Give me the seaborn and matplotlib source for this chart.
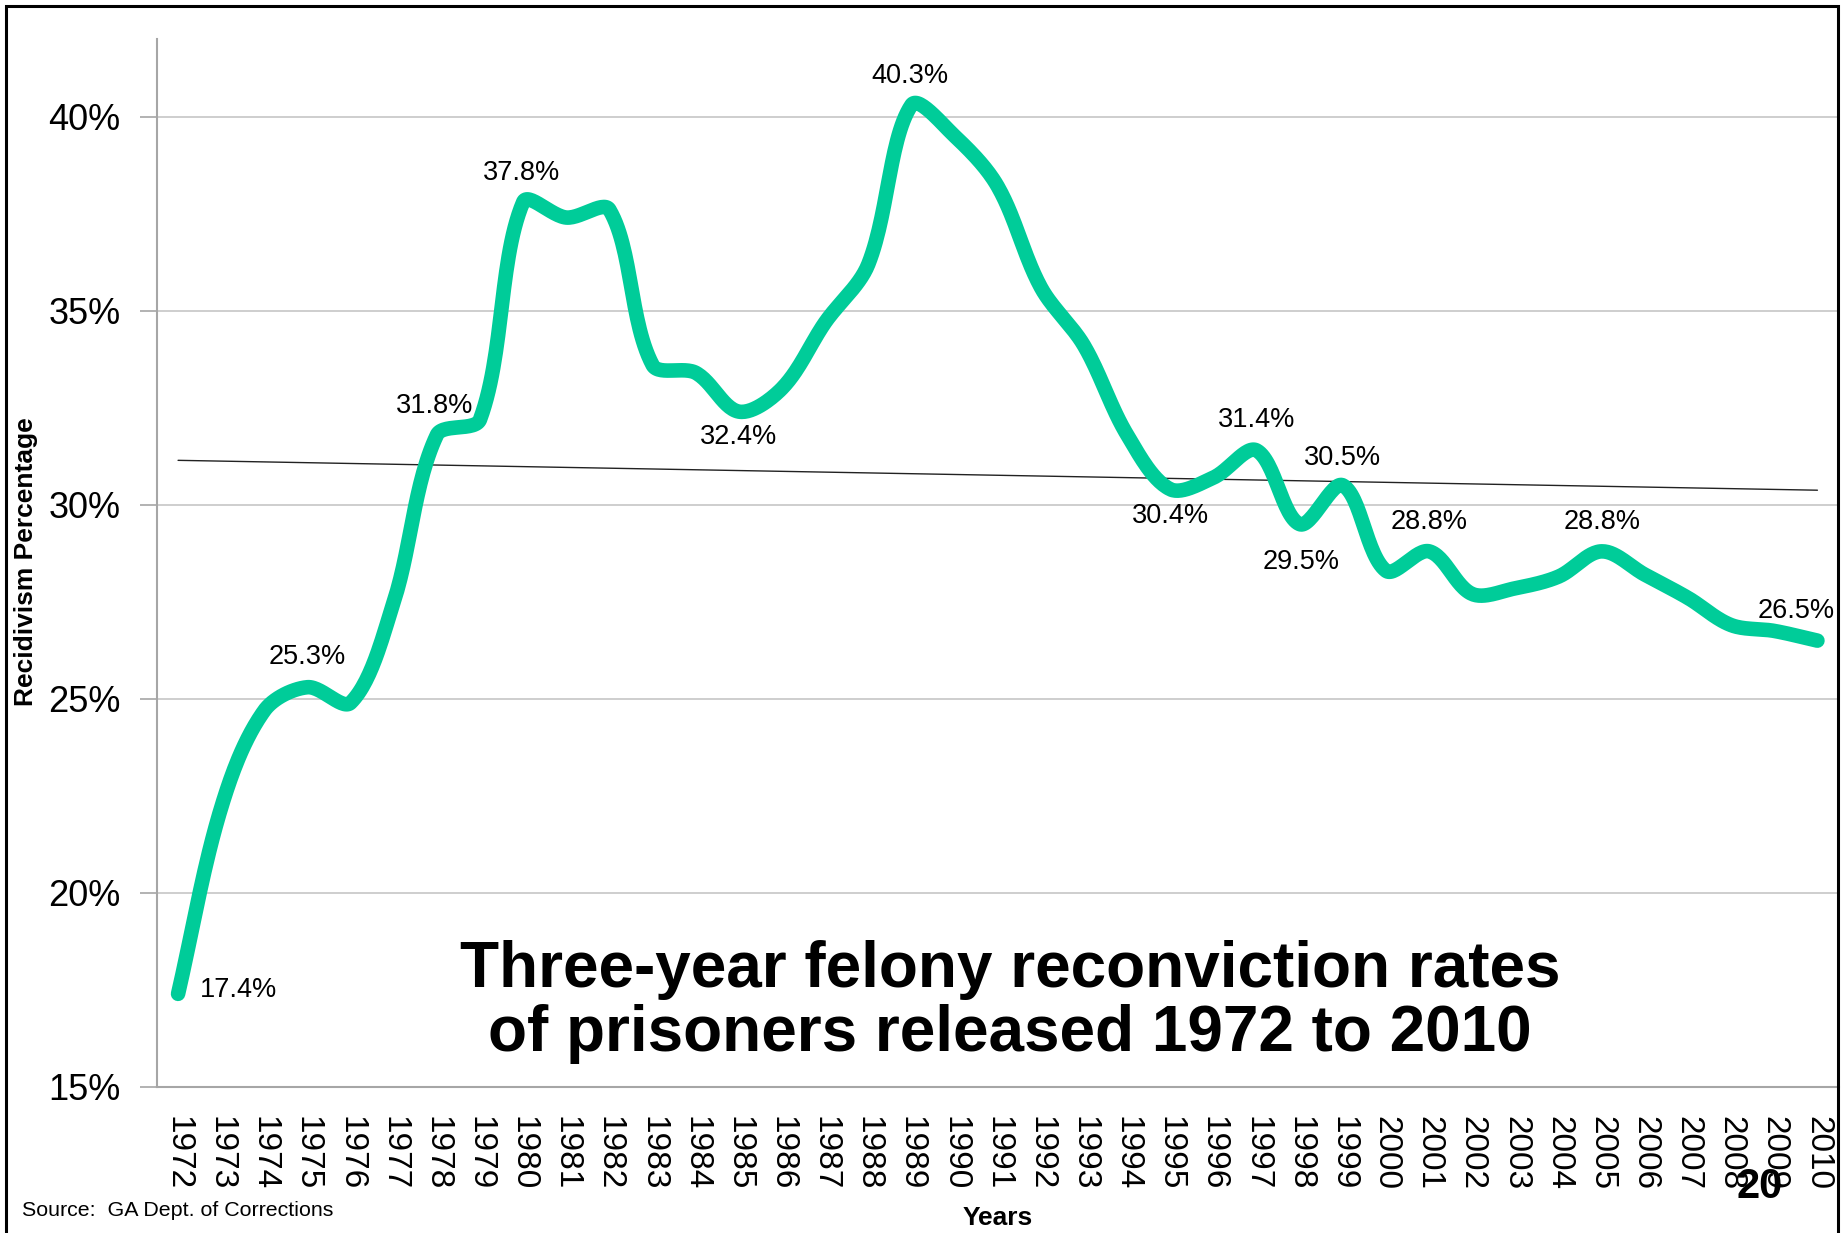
import numpy as np
import pandas as pd
import matplotlib
matplotlib.use("Agg")
import matplotlib.pyplot as plt
import seaborn as sns
from matplotlib.patches import Rectangle

# ---------------- data ----------------
years = list(range(1972, 2011))
rates = [17.4, 22.2, 24.7, 25.3, 24.9, 27.5, 31.8, 32.2, 37.8, 37.4,
         37.6, 33.6, 33.4, 32.4, 33.0, 34.7, 36.2, 40.3, 39.5, 38.2,
         35.6, 34.1, 31.8, 30.4, 30.7, 31.4, 29.5, 30.5, 28.3, 28.8,
         27.7, 27.85, 28.15, 28.8, 28.2, 27.6, 26.9, 26.75, 26.5]
labelled_years = [1972, 1975, 1978, 1980, 1985, 1989, 1995, 1997, 1998, 1999, 2001, 2005, 2010]
y_ticks = [15, 20, 25, 30, 35, 40]
y_tick_labels = ["15%", "20%", "25%", "30%", "35%", "40%"]
title_text = "Three-year felony reconviction rates\nof prisoners released 1972 to 2010"
y_label = "Recidivism Percentage"
x_label = "Years"
source_text = "Source:  GA Dept. of Corrections"
page_number = "20"

# label offsets (points), style only
label_offsets = {1972: (16, 3, "left"), 1975: (0, 22, "center"), 1978: (-2, 21, "center"),
                 1980: (-1, 21, "center"), 1985: (0, -18, "center"), 1989: (-1, 21, "center"),
                 1995: (0, -19, "center"), 1997: (0, 22, "center"), 1998: (1, -27, "center"),
                 1999: (0, 20, "center"), 2001: (0, 21, "center"), 2005: (0, 21, "center"),
                 2010: (-15, 21, "center")}

GREEN = "#00CC99"

sns.set_theme(style="white")
plt.rcParams["font.family"] = ["Liberation Sans", "DejaVu Sans"]
plt.rcParams["text.color"] = "black"
plt.rcParams["axes.labelcolor"] = "black"
plt.rcParams["xtick.color"] = "black"
plt.rcParams["ytick.color"] = "black"

W, H = 1845, 1233
fig = plt.figure(figsize=(W / 100, H / 100), dpi=100)
ax = fig.add_axes([156.5 / W, 1 - 1087 / H, (1839 - 156.5) / W, (1087 - 39) / H])

# smoothing (spreadsheet-style smoothed line: Bezier with length-weighted tangents)
xpos = np.arange(len(years), dtype=float)
yv = np.array(rates, dtype=float)
P = np.column_stack([xpos, yv])
Pp = np.vstack([P[0], P, P[-1]])
segs = []
t = np.linspace(0, 1, 30)[:, None]


def seglen(a, b):
    return max(np.hypot(*(b - a)), 1e-9)


for i in range(1, len(Pp) - 2):
    p0, p1, p2, p3 = Pp[i - 1], Pp[i], Pp[i + 1], Pp[i + 2]
    d01, d12, d23 = seglen(p0, p1), seglen(p1, p2), seglen(p2, p3)
    c1 = p1 + (p2 - p0) * (d12 / (d01 + d12)) / 3.0
    c2 = p2 - (p3 - p1) * (d12 / (d12 + d23)) / 3.0
    b = ((1 - t) ** 3) * p1 + 3 * ((1 - t) ** 2) * t * c1 + 3 * (1 - t) * t ** 2 * c2 + t ** 3 * p2
    segs.append(b if i == 1 else b[1:])
curve = np.vstack(segs)
df_curve = pd.DataFrame({"x": curve[:, 0], "y": curve[:, 1]})

# trend line from the data
k, c0 = np.polyfit(xpos, yv, 1)
df_trend = pd.DataFrame({"x": [xpos[0], xpos[-1]], "y": [c0 + k * xpos[0], c0 + k * xpos[-1]]})

# gridlines
for yt in y_ticks:
    ax.axhline(yt, color="#C6C6C6", lw=1.2, zorder=0)

sns.lineplot(data=df_trend, x="x", y="y", ax=ax, color="#222222", lw=1.0, sort=False,
             estimator=None, zorder=2)
sns.lineplot(data=df_curve, x="x", y="y", ax=ax, color=GREEN, lw=10.5, sort=False,
             estimator=None, zorder=3, solid_capstyle="round", solid_joinstyle="round")

# labels
for yr in labelled_years:
    i = years.index(yr)
    dx, dy, ha = label_offsets[yr]
    ax.annotate(f"{rates[i]:.1f}%", (xpos[i], rates[i]), xytext=(dx, dy),
                textcoords="offset points", ha=ha, va="center", fontsize=19.5,
                color="black", zorder=5)

ax.set_xlim(-0.5, len(years) - 0.5)
ax.set_ylim(15, 42)
ax.set_yticks(y_ticks)
ax.set_yticklabels(y_tick_labels, fontsize=26)
ax.set_xticks(xpos)
ax.set_xticklabels([str(y) for y in years], rotation=-90, fontsize=24)
ax.set_xticks(np.arange(-0.5, len(years)), minor=True)
ax.tick_params(axis="x", which="major", length=0, pad=21)
ax.tick_params(axis="x", which="minor", length=12, width=1.2, color="#A6A6A6")
ax.tick_params(axis="y", which="major", length=12, width=1.2, color="#A6A6A6", pad=14, left=True,
               labelcolor="black")
for lab in ax.get_xticklabels():
    lab.set_va("top")
ax.set_xlabel("")
ax.set_ylabel("")
for s in ["top", "right"]:
    ax.spines[s].set_visible(False)
for s in ["left", "bottom"]:
    ax.spines[s].set_color("#A6A6A6")
    ax.spines[s].set_linewidth(1.5)
ax.set_facecolor("white")
ax.grid(False)

# texts
fig.text(1010 / W, 1 - 1002 / H, title_text, ha="center", va="center", fontsize=46,
         fontweight="bold", linespacing=1.1, color="black")
fig.text(26 / W, 1 - 562 / H, y_label, rotation=90, ha="center", va="center", fontsize=19,
         fontweight="bold", color="black")
fig.text(998 / W, 1 - 1218 / H, x_label, ha="center", va="center", fontsize=19,
         fontweight="bold", color="black")
fig.text(22 / W, 1 - 1210 / H, source_text, ha="left", va="center", fontsize=15.4, color="black")
fig.text(1760 / W, 1 - 1187 / H, page_number, ha="center", va="center", fontsize=30,
         fontweight="bold", color="black")

fig.patches.append(Rectangle((6 / W, -0.05), (1838 - 6) / W, (1 - 6 / H) + 0.05,
                             transform=fig.transFigure, fill=False, ec="black", lw=2.2,
                             clip_on=False))

fig.savefig("out.png", dpi=100)
